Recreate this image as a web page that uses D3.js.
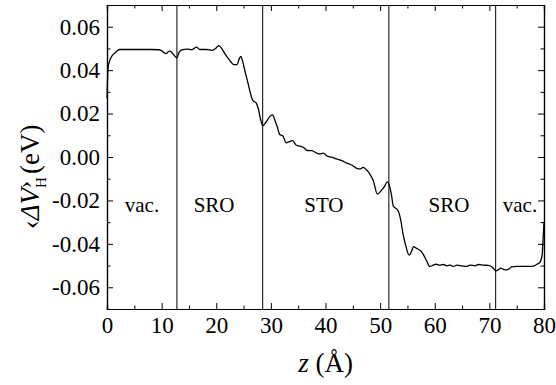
<!DOCTYPE html>
<html>
<head>
<meta charset="utf-8">
<script src="https://cdn.jsdelivr.net/npm/d3@7"></script>
</head>
<body style="margin:0; background:#fff">
<div id="chart"></div>
<script>
// Planar-averaged Hartree potential difference along z
const zValues = [
  0.0, 0.1, 0.2, 0.5, 1.0, 1.6, 2.3, 4.0, 6.0, 8.0, 9.6, 10.3, 10.8, 11.4, 11.8, 12.3, 12.8, 13.2, 13.8,
  14.7, 15.5, 16.4, 17.0, 18.2, 19.3, 20.0, 20.4, 20.8, 21.6, 22.5, 23.1, 23.8, 24.2, 24.5, 24.8, 25.3,
  25.7, 26.2, 26.7, 27.3, 27.7, 28.1, 28.5, 29.1, 29.8, 30.3, 30.8, 31.2, 31.6, 32.2, 32.8, 33.4, 34.0,
  34.6, 35.3, 35.9, 36.7, 37.5, 38.4, 39.0, 39.6, 40.2, 41.1, 42.0, 43.0, 43.9, 44.8, 45.7, 46.3, 46.9,
  47.5, 48.1, 48.75, 49.5, 50.2, 50.8, 51.3, 51.7, 52.1, 52.4, 52.9, 53.3, 53.8, 54.2, 54.7, 55.3, 55.8,
  56.1, 56.7, 57.4, 57.9, 58.5, 59.1, 59.7, 60.2, 60.8, 61.6, 62.2, 62.8, 63.4, 64.1, 64.9, 65.7, 66.5,
  67.4, 68.0, 68.9, 69.8, 70.4, 70.8, 71.2, 71.6, 72.1, 72.55, 73.2, 73.65, 74.1, 75.0, 77.4, 78.2, 78.7,
  79.2, 79.5, 79.7, 79.8, 79.9, 80.0
];
const vValues = [
  0.027, 0.036, 0.041, 0.0444, 0.0468, 0.0483, 0.0495, 0.0495, 0.0495, 0.0495, 0.0494, 0.0483, 0.0476,
  0.0488, 0.0484, 0.0468, 0.0457, 0.0482, 0.0494, 0.0497, 0.0494, 0.0506, 0.0495, 0.0495, 0.0491, 0.0502,
  0.0513, 0.0506, 0.0475, 0.0444, 0.0427, 0.0425, 0.0452, 0.0463, 0.0444, 0.0391, 0.0352, 0.0299, 0.0260,
  0.0249, 0.0222, 0.0175, 0.0144, 0.0160, 0.0186, 0.0194, 0.0165, 0.0137, 0.0104, 0.0097, 0.0065, 0.0071,
  0.0075, 0.0055, 0.0050, 0.0045, 0.0030, 0.0029, 0.0018, 0.0014, 0.0018, 0.0006, -0.0001, -0.0009,
  -0.0017, -0.0028, -0.0037, -0.0052, -0.0055, -0.0048, -0.0059, -0.0078, -0.0109, -0.0171, -0.0155,
  -0.0135, -0.0115, -0.0132, -0.0178, -0.0225, -0.0237, -0.0248, -0.0294, -0.0355, -0.0409, -0.0452,
  -0.0432, -0.0413, -0.0421, -0.0432, -0.0448, -0.0478, -0.0504, -0.0498, -0.0494, -0.0498, -0.0495,
  -0.0501, -0.0498, -0.0504, -0.0498, -0.0501, -0.0504, -0.0498, -0.0501, -0.0495, -0.0498, -0.0499,
  -0.0505, -0.0515, -0.0525, -0.0520, -0.0512, -0.0517, -0.0520, -0.0514, -0.0506, -0.0504, -0.0504,
  -0.0501, -0.0494, -0.0486, -0.0471, -0.0440, -0.0394, -0.0348, -0.0301
];

// Interfaces and layer labels
const boundaries = [12.8, 28.5, 51.6, 71.15];
const regionNames = ['vac.', 'SRO', 'STO', 'SRO', 'vac.'];
const regionCenters = [6.4, 19.6, 39.7, 62.6, 75.6];
const regionLabelV = -0.0255;

// Ticks
const xTicks = [0, 10, 20, 30, 40, 50, 60, 70, 80];
const xMinor = [5, 15, 25, 35, 45, 55, 65, 75];
const yTicks = [-0.06, -0.04, -0.02, 0.00, 0.02, 0.04, 0.06];
const yMinor = [-0.05, -0.03, -0.01, 0.01, 0.03, 0.05];

const FONT = '"Liberation Serif"';
const W = 556, H = 385;
const margin = { top: 5, right: 12, bottom: 76, left: 107 };
const width = W - margin.left - margin.right;
const height = H - margin.top - margin.bottom;

const svg = d3.select('#chart').append('svg')
  .attr('width', W)
  .attr('height', H)
  .style('display', 'block');

const g = svg.append('g')
  .attr('transform', `translate(${margin.left},${margin.top})`);

const x = d3.scaleLinear().domain([0, 80]).range([0, width]);
const y = d3.scaleLinear().domain([-0.07, 0.07]).range([height, 0]);

// Layer boundaries
g.selectAll('.boundary')
  .data(boundaries)
  .join('line')
  .attr('class', 'boundary')
  .attr('x1', d => x(d))
  .attr('x2', d => x(d))
  .attr('y1', 0)
  .attr('y2', height)
  .attr('stroke', '#000')
  .attr('stroke-width', 1);

// Curve
const data = zValues.map((z, i) => ({ z, v: vValues[i] }));
const line = d3.line()
  .x(d => x(d.z))
  .y(d => y(d.v))
  .curve(d3.curveMonotoneX);

g.append('path')
  .datum(data)
  .attr('fill', 'none')
  .attr('stroke', '#000')
  .attr('stroke-width', 1.3)
  .attr('stroke-linejoin', 'round')
  .attr('d', line);

// Axes (ticks pointing inward on all four sides)
const fmtY = d => d.toFixed(2);

function addAxis(axis, transform) {
  const a = g.append('g').attr('class', 'axis');
  if (transform) a.attr('transform', transform);
  a.call(axis);
  a.selectAll('line').attr('stroke', '#000');
  a.select('.domain').attr('stroke', '#000').attr('stroke-width', 1.2);
  a.selectAll('text')
    .style('font-family', FONT)
    .style('font-size', '23px')
    .attr('fill', '#000');
  return a;
}

addAxis(d3.axisBottom(x).tickValues(xTicks).tickSize(-6).tickPadding(8).tickFormat(d3.format('d')), `translate(0,${height})`);
addAxis(d3.axisBottom(x).tickValues(xMinor).tickSize(-3.5).tickFormat(''), `translate(0,${height})`);
addAxis(d3.axisTop(x).tickValues(xTicks).tickSize(-6).tickFormat(''));
addAxis(d3.axisTop(x).tickValues(xMinor).tickSize(-3.5).tickFormat(''));
addAxis(d3.axisLeft(y).tickValues(yTicks).tickSize(-6).tickPadding(7).tickFormat(fmtY));
addAxis(d3.axisLeft(y).tickValues(yMinor).tickSize(-3.5).tickFormat(''));
addAxis(d3.axisRight(y).tickValues(yTicks).tickSize(-6).tickFormat(''), `translate(${width},0)`);
addAxis(d3.axisRight(y).tickValues(yMinor).tickSize(-3.5).tickFormat(''), `translate(${width},0)`);

// Layer labels
g.selectAll('.region')
  .data(regionNames)
  .join('text')
  .attr('class', 'region')
  .attr('x', (d, i) => x(regionCenters[i]))
  .attr('y', y(regionLabelV))
  .attr('text-anchor', 'middle')
  .style('font-family', FONT)
  .style('font-size', '21px')
  .style('fill', '#000')
  .text(d => d);

// X axis title
const xt = svg.append('text')
  .attr('x', margin.left + width / 2)
  .attr('y', 372)
  .attr('text-anchor', 'middle')
  .style('font-family', FONT)
  .style('font-size', '27px')
  .style('fill', '#000');
xt.append('tspan').style('font-style', 'italic').text('z');
xt.append('tspan').text(' (Å)');

// Y axis title
const yt = svg.append('text')
  .attr('transform', 'translate(39,177) rotate(-90)')
  .attr('text-anchor', 'middle')
  .style('font-family', FONT)
  .style('font-size', '27px')
  .style('fill', '#000');
yt.append('tspan').text('‹');
yt.append('tspan').style('font-style', 'italic').text('ΔV');
yt.append('tspan').attr('dy', 7).style('font-size', '15px').text('H');
yt.append('tspan').attr('dx', -11).attr('dy', -14).style('font-size', '22px').text('›');
yt.append('tspan').attr('dy', 7).text(' (eV)');
</script>
</body>
</html>
